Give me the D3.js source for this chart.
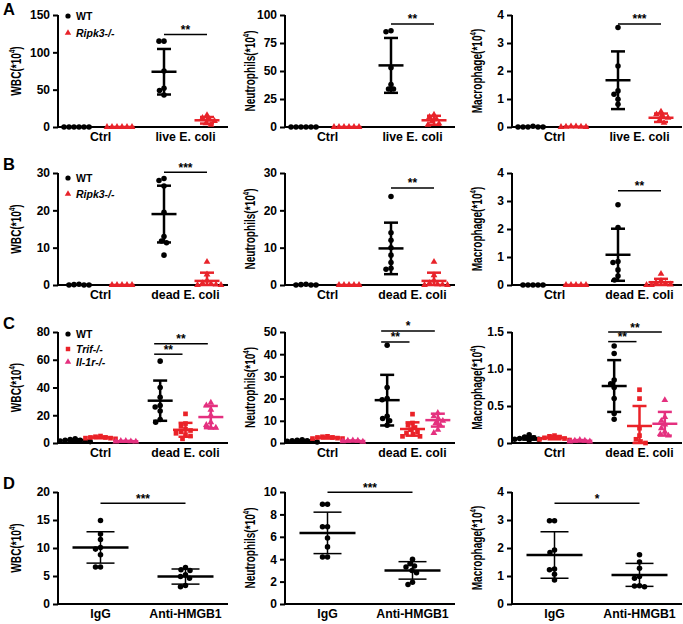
<!DOCTYPE html>
<html><head><meta charset="utf-8">
<script src="https://cdn.jsdelivr.net/npm/d3@7"></script>
<style>
body{margin:0;background:#fff}
text{font-family:"Liberation Sans",Arial,sans-serif;font-weight:bold;fill:#000}
</style>
</head><body>
<svg id="chart" width="683" height="624"></svg>
<script>
// ---------------- DATA ----------------
const catsA = ["Ctrl", "live E. coli"];
const catsB = ["Ctrl", "dead E. coli"];
const catsC = ["Ctrl", "dead E. coli"];
const catsD = ["IgG", "Anti-HMGB1"];
const groupsAB = ["WT", "Ripk3-/-"];
const groupsC = ["WT", "Trif-/-", "Il-1r-/-"];
const groupsD = ["all"];
const rowLetters = ["A", "B", "C", "D"];
const measures = ["WBC", "Neutrophils", "Macrophage"];

// order: [cat0 g0, cat0 g1, (cat0 g2), cat1 g0, cat1 g1, (cat1 g2)]
const aWbcPts = [[0,0,0,0,0,0],[0,0,0,0,0,0],[115,115,75,52,49,43],[16,12,10,8,5,3]];
const aWbcMean = [0, 0, 74, 9];
const aWbcSD = [0, 0, 30.5, 4.4];
const aWbcTicks = [0, 50, 100, 150];
const aWbcSig = [[2, 3, 124, "**"]];

const aNeuPts = [[0,0,0,0,0,0],[0,0,0,0,0,0],[86,85,53,38,34,34],[11,9,7,5,3,2]];
const aNeuMean = [0, 0, 55, 6];
const aNeuSD = [0, 0, 24.5, 4];
const aNeuTicks = [0, 25, 50, 75, 100];
const aNeuSig = [[2, 3, 92, "**"]];

const aMacPts = [[0.03,0,0,0,0,0],[0.02,0.02,0.01,0.01,0,0],[3.55,2.18,1.29,1.17,0.99,0.81],[0.55,0.45,0.38,0.33,0.25,0.15]];
const aMacMean = [0.01, 0.01, 1.67, 0.33];
const aMacSD = [0, 0, 1.03, 0.15];
const aMacTicks = [0, 1, 2, 3, 4];
const aMacSig = [[2, 3, 3.68, "***"]];

const bWbcPts = [[0.2,0.1,0,0,0],[0,0,0,0,0],[28.5,28,26.5,19.5,13,11.8,11.3,8],[6.2,2.8,1.2,0.5,0.3,0.1,0,0]];
const bWbcMean = [0.05, 0, 19, 1.1];
const bWbcSD = [0, 0, 7.6, 2.2];
const bWbcTicks = [0, 10, 20, 30];
const bWbcSig = [[2, 3, 30.2, "***"]];

const bNeuPts = [[0.2,0.1,0,0,0],[0,0,0,0,0],[23.7,14,12,10,8,6,4.5,4.2],[6.2,2.6,1.2,0.5,0.2,0.1,0,0]];
const bNeuMean = [0.05, 0, 9.8, 1.1];
const bNeuSD = [0, 0, 6.9, 2.2];
const bNeuTicks = [0, 10, 20, 30];
const bNeuSig = [[2, 3, 26, "**"]];

const bMacPts = [[0,0,0,0,0],[0,0,0,0,0],[2.87,2.05,0.84,0.80,0.54,0.32,0.18],[0.4,0.15,0.08,0.05,0.02,0,0]];
const bMacMean = [0, 0, 1.08, 0.1];
const bMacSD = [0, 0, 0.93, 0.12];
const bMacTicks = [0, 1, 2, 3, 4];
const bMacSig = [[2, 3, 3.37, "**"]];

const cWbcPts = [[3,2.5,2,2,1.5,1.5,1],[4.5,4,4,3.5,3.5,3,5],[1.5,1.5,1,1,1.2],
                 [59,40,33,27,26,23,17,15],[21,14,12,10,9,8,7,6,5,3],[29,27,24,20,15,13,11,11]];
const cWbcMean = [2, 4, 1.3, 30.5, 9.5, 18.7];
const cWbcSD = [0.6, 0.6, 0.2, 14.5, 5, 8];
const cWbcTicks = [0, 20, 40, 60, 80];
const cWbcSig = [[3, 4, 64, "**"], [3, 5, 71.6, "**"]];

const cNeuPts = [[1.5,1,1,1,0.5,0.8,1.2],[3,2.5,2.5,2,2,2.8,2.2],[1,0.8,1.2,1,0.6],
                 [44,25,20,19.5,12,11,10,8],[13,9,8,7,6,5,4.5,4,3,3],[13.5,12,11,10,9,8,6,4.5]];
const cNeuMean = [1, 2.4, 0.9, 19.3, 6.3, 10.3];
const cNeuSD = [0.3, 0.4, 0.2, 11.4, 3, 2.9];
const cNeuTicks = [0, 10, 20, 30, 40, 50];
const cNeuSig = [[3, 4, 45.5, "**"], [3, 5, 50.5, "*"]];

const cMacPts = [[0.11,0.08,0.07,0.06,0.05,0.05,0.04],[0.1,0.09,0.08,0.07,0.06,0.05,0.04],[0.04,0.03,0.03,0.02,0.02],
                 [1.31,1.21,0.85,0.8,0.75,0.6,0.4,0.32],[0.72,0.6,0.2,0.1,0.05,0.02,0],[0.58,0.35,0.3,0.25,0.2,0.15,0.12,0.1]];
const cMacMean = [0.065, 0.07, 0.03, 0.77, 0.23, 0.26];
const cMacSD = [0.02, 0.02, 0.01, 0.35, 0.27, 0.16];
const cMacTicks = [0, 0.5, 1.0, 1.5];
const cMacTickLabels = ["0", "0.5", "1.0", "1.5"];
const cMacSig = [[3, 4, 1.37, "**"], [3, 5, 1.5, "**"]];

const dWbcPts = [[14.9,12.5,11.5,10.1,9.8,8.8,6.6,6.6],[6.5,6.1,6.0,5.2,4.9,4.6,3.3,3.1]];
const dWbcMean = [10.1, 4.9];
const dWbcSD = [2.8, 1.35];
const dWbcTicks = [0, 5, 10, 15, 20];
const dWbcSig = [[0, 1, 18, "***"]];

const dNeuPts = [[8.9,8.9,6.9,6.9,5.9,5.1,4.2,4.2],[4.0,3.6,3.4,3.3,3.0,2.8,1.95,1.75]];
const dNeuMean = [6.35, 3.0];
const dNeuSD = [1.85, 0.78];
const dNeuTicks = [0, 2, 4, 6, 8, 10];
const dNeuSig = [[0, 1, 9.97, "***"]];

const dMacPts = [[2.97,2.97,1.93,1.84,1.25,1.22,1.06,0.86],[1.76,1.5,1.28,0.98,0.92,0.65,0.62,0.64]];
const dMacMean = [1.75, 1.04];
const dMacSD = [0.83, 0.41];
const dMacTicks = [0, 1, 2, 3, 4];
const dMacSig = [[0, 1, 3.6, "*"]];

// ---------------- LAYOUT / STYLE ----------------
const colX = [58, 285, 512];
const plotW = 170;
const rowY = [[15, 127], [173, 285], [332, 443], [492, 604]];
const ylabOffset = [-37, -30, -30];
const legendY = [[1, 18], [5, 21], [2, 17, 30]];
const groupColor = {"WT": "#000", "Ripk3-/-": "#e8232a", "Trif-/-": "#ea2228", "Il-1r-/-": "#e4307f", "all": "#000"};
const groupShape = {"WT": "circle", "Ripk3-/-": "triangle", "Trif-/-": "square", "Il-1r-/-": "triangle", "all": "circle"};

const rows = [
  {cats: catsA, groups: groupsAB, legend: legendY[0], panels: [
    [aWbcPts, aWbcMean, aWbcSD, aWbcTicks, null, aWbcSig],
    [aNeuPts, aNeuMean, aNeuSD, aNeuTicks, null, aNeuSig],
    [aMacPts, aMacMean, aMacSD, aMacTicks, null, aMacSig]]},
  {cats: catsB, groups: groupsAB, legend: legendY[1], panels: [
    [bWbcPts, bWbcMean, bWbcSD, bWbcTicks, null, bWbcSig],
    [bNeuPts, bNeuMean, bNeuSD, bNeuTicks, null, bNeuSig],
    [bMacPts, bMacMean, bMacSD, bMacTicks, null, bMacSig]]},
  {cats: catsC, groups: groupsC, legend: legendY[2], panels: [
    [cWbcPts, cWbcMean, cWbcSD, cWbcTicks, null, cWbcSig],
    [cNeuPts, cNeuMean, cNeuSD, cNeuTicks, null, cNeuSig],
    [cMacPts, cMacMean, cMacSD, cMacTicks, cMacTickLabels, cMacSig]]},
  {cats: catsD, groups: groupsD, legend: null, panels: [
    [dWbcPts, dWbcMean, dWbcSD, dWbcTicks, null, dWbcSig],
    [dNeuPts, dNeuMean, dNeuSD, dNeuTicks, null, dNeuSig],
    [dMacPts, dMacMean, dMacSD, dMacTicks, null, dMacSig]]}
];

const svg = d3.select("#chart");

function symbolPath(shape, k = 1) {
  if (shape === "triangle") return d3.symbol(d3.symbolTriangle, 20 * k)();
  if (shape === "square") return d3.symbol(d3.symbolSquare, 22 * k)();
  return d3.symbol(d3.symbolCircle, 24 * k)();
}

function swarm(vals, y, d) {
  const items = vals.map(v => ({v, py: y(v)})).sort((a, b) => a.py - b.py);
  const placed = [];
  const step = 0.5;
  items.forEach(it => {
    let off = null;
    for (let k = 0; k < 400 && off === null; k++) {
      const cands = k === 0 ? [0] : [-k * step, k * step];
      for (const s of cands) {
        if (placed.every(p => (p.dx - s) ** 2 + (p.py - it.py) ** 2 >= d * d)) { off = s; break; }
      }
    }
    it.dx = off;
    placed.push(it);
  });
  return items;
}

rows.forEach((row, ri) => {
  const [yTop, yBot] = rowY[ri];
  svg.append("text").attr("x", 3).attr("y", yTop - (ri === 0 ? 0 : 3))
    .attr("font-size", 16.5).text(rowLetters[ri]);

  row.panels.forEach((p, ci) => {
    const [pts, means, sds, ticks, tickLabels, sigs] = p;
    const x0 = colX[ci];
    const g = svg.append("g");
    const y = d3.scaleLinear().domain([0, ticks[ticks.length - 1]]).range([yBot, yTop]);
    const xc = d3.scaleBand().domain(row.cats).range([x0, x0 + plotW]);
    const ng = row.groups.length;
    const sub = d3.scaleBand().domain(row.groups)
      .range(ng === 3 ? [-38, 38] : ng === 2 ? [-43, 43] : [0, 0]);
    const cx = idx => {
      const c = row.cats[Math.floor(idx / ng)], gr = row.groups[idx % ng];
      return xc(c) + xc.bandwidth() / 2 + sub(gr) + sub.bandwidth() / 2;
    };

    // y axis
    const ax = g.append("g").attr("transform", `translate(${x0},0)`)
      .call(d3.axisLeft(y).tickValues(ticks).tickSize(5).tickSizeOuter(0).tickPadding(3)
        .tickFormat((d, i) => tickLabels ? tickLabels[i] : String(d)));
    ax.selectAll("path,line").attr("stroke", "#000").attr("stroke-width", 2);
    ax.select("path").attr("d", `M0,${yBot + 1}V${yTop}`);
    ax.selectAll("text").attr("font-size", 12).attr("font-family", "Liberation Sans, Arial").attr("font-weight", "bold").attr("fill", "#000");

    // x axis
    const xa = g.append("g").attr("transform", `translate(0,${yBot})`)
      .call(d3.axisBottom(xc).tickSize(0).tickPadding(5).tickSizeOuter(0));
    xa.select("path").attr("stroke", "#000").attr("stroke-width", 2).attr("d", `M${x0 - 1},0H${x0 + plotW}`);
    xa.selectAll("text").attr("font-size", 12.3).attr("font-family", "Liberation Sans, Arial").attr("font-weight", "bold").attr("fill", "#000");

    // y label
    const lab = g.append("text")
      .attr("transform", `translate(${x0 + ylabOffset[ci]},${(yTop + yBot) / 2}) rotate(-90) scale(0.72,1)`)
      .attr("text-anchor", "middle").attr("font-size", 14);
    lab.append("tspan").text(measures[ci] + "(*10");
    lab.append("tspan").attr("font-size", 8.5).attr("dy", -6).text("4");
    lab.append("tspan").attr("dy", 6).text(")");

    // groups
    pts.forEach((vals, idx) => {
      const gr = row.groups[idx % ng];
      const col = groupColor[gr];
      const x = cx(idx);
      const thick = ri === 3;
      const mw = thick ? 28 : 12.5, cw = thick ? 14 : 7;
      const ew = thick ? 1.5 : 2.5;
      const m = means[idx], s = sds[idx];
      // points
      const sw = swarm(vals, y, 5);
      g.append("g").selectAll("path").data(sw).join("path")
        .attr("d", symbolPath(groupShape[gr]))
        .attr("transform", d => `translate(${x + d.dx},${d.py})`)
        .attr("fill", col);
      // error bars
      const hi = y(m + s), lo = y(Math.max(0, m - s));
      if (s > 0) {
        g.append("line").attr("x1", x).attr("x2", x).attr("y1", hi).attr("y2", lo).attr("stroke", col).attr("stroke-width", ew);
        g.append("line").attr("x1", x - cw).attr("x2", x + cw).attr("y1", hi).attr("y2", hi).attr("stroke", col).attr("stroke-width", ew);
        g.append("line").attr("x1", x - cw).attr("x2", x + cw).attr("y1", lo).attr("y2", lo).attr("stroke", col).attr("stroke-width", ew);
      }
      g.append("line").attr("x1", x - mw).attr("x2", x + mw).attr("y1", y(m)).attr("y2", y(m))
        .attr("stroke", col).attr("stroke-width", 2.5);
    });

    // significance
    sigs.forEach(([a, b, v, lbl]) => {
      const x1 = cx(a) - (ng === 3 ? 6 : 0), x2 = cx(b) - (ng === 3 ? 3 : 0), yy = y(v);
      g.append("line").attr("x1", x1).attr("x2", x2).attr("y1", yy).attr("y2", yy)
        .attr("stroke", "#000").attr("stroke-width", 1.5);
      g.append("text").attr("x", (x1 + x2) / 2).attr("y", yy - 0.5)
        .attr("text-anchor", "middle").attr("font-size", 12).text(lbl);
    });

    // legend
    if (ci === 0 && row.legend) {
      row.groups.forEach((gr, k) => {
        const ly = yTop + row.legend[k];
        svg.append("path").attr("d", symbolPath(groupShape[gr], 0.9))
          .attr("transform", `translate(${x0 + 10},${ly})`).attr("fill", groupColor[gr]);
        svg.append("text").attr("x", x0 + 18).attr("y", ly + 4).attr("font-size", 10.5)
          .attr("font-style", gr === "WT" ? "normal" : "italic").text(gr);
      });
    }
  });
});
</script>
</body></html>
